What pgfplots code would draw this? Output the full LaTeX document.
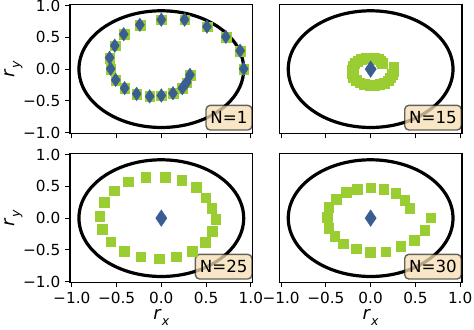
\documentclass[border=0pt]{standalone}
\usepackage{pgfplots}
\pgfplotsset{compat=1.18}
\usepackage{fontspec}
\setmainfont{DejaVu Sans}
\definecolor{sqgreen}{RGB}{154,205,50}
\definecolor{dmblue}{RGB}{58,94,145}
\definecolor{wheat}{RGB}{245,222,179}

\tikzset{
  ring/.style={line width=2.3pt, black},
  nbox/.style={anchor=south east, fill=wheat, fill opacity=0.75, draw=black, draw opacity=0.6, text opacity=1,
    rounded corners=3pt, line width=1pt, inner xsep=3.2pt, inner ysep=4.5pt, text height=8.8pt, text depth=0pt,
    font=\fontsize{12}{14}\selectfont, yshift=2pt},
}
\pgfplotsset{
  panel/.style={
    scale only axis, width=131.5pt, height=92.7pt,
    xmin=-1.02, xmax=1.02, ymin=-1.015, ymax=1.015,
    clip=false,
    axis line style={line width=0.8pt},
    tick align=outside, major tick length=3.5pt,
    every tick/.style={line width=0.8pt, black},
    tick pos=left,
    xtick={-1,-0.5,0,0.5,1}, ytick={-1,-0.5,0,0.5,1},
    xticklabels={}, yticklabels={},
    ticklabel style={font=\fontsize{11}{13}\selectfont},
    every axis x label/.style={at={(axis description cs:0.5,-0.27)}, anchor=center, font=\fontsize{13}{15}\selectfont},
    every axis y label/.style={at={(axis description cs:-0.31,0.5)}, rotate=90, anchor=center, font=\fontsize{13}{15}\selectfont},
  },
  numx/.style={xticklabels={−1.0,−0.5,0.0,0.5,1.0}, xlabel={\textit{r}\raisebox{-0.3em}{\fontsize{9}{10}\selectfont\textit{x}}}},
  numy/.style={yticklabels={−1.0,−0.5,0.0,0.5,1.0}, ylabel={\textit{r}\raisebox{-0.3em}{\fontsize{9}{10}\selectfont\textit{y}}}},
  noy/.style={ytick=\empty},
  sq/.style={only marks, mark=square*, mark size=3.5pt, mark options={fill=sqgreen, draw=sqgreen, line width=0.1pt}},
  dm/.style={only marks, mark=diamond*, mark size=#1, mark options={xscale=0.9, fill=dmblue, draw=dmblue, line width=0.1pt}},
}

\begin{document}
\begin{tikzpicture}
\useasboundingbox (0,0) rectangle (341.28pt,236.88pt);

% N=1
\begin{axis}[panel, numy, at={(50.4pt,140.76pt)}, anchor=south west]
\addplot[sq] coordinates {
(0.32,-0.09) (0.283,-0.21) (0.235,-0.30) (0.13,-0.38) (0.00,-0.415)
(-0.13,-0.43) (-0.276,-0.39) (-0.41,-0.30) (-0.51,-0.17) (-0.566,0.005)
(-0.578,0.18) (-0.52,0.37) (-0.42,0.55) (-0.24,0.70) (0.00,0.78)
(0.26,0.78) (0.51,0.67) (0.72,0.51) (0.88,0.29) (0.92,0.005)};
\addplot[dm=5pt] coordinates {
(0.32,-0.09) (0.283,-0.21) (0.235,-0.30) (0.13,-0.38) (0.00,-0.415)
(-0.13,-0.43) (-0.276,-0.39) (-0.41,-0.30) (-0.51,-0.17) (-0.566,0.005)
(-0.578,0.18) (-0.52,0.37) (-0.42,0.55) (-0.24,0.70) (0.00,0.78)
(0.26,0.78) (0.51,0.67) (0.72,0.51) (0.88,0.29) (0.92,0.005)};
\draw[ring] (axis cs:0,0) ellipse [x radius=0.92, y radius=0.92];
\node[nbox] at (rel axis cs:1,0) {N=1};
\end{axis}

% N=15
\begin{axis}[panel, noy, at={(201.1pt,140.76pt)}, anchor=south west]
\addplot[sq] coordinates {
(0.257,0.028) (0.255,-0.028) (0.242,-0.083) (0.22,-0.133) (0.193,-0.179)
(0.15,-0.216) (0.10,-0.239) (0.045,-0.25) (-0.01,-0.248) (-0.07,-0.235)
(-0.123,-0.212) (-0.165,-0.175) (-0.197,-0.129) (-0.21,-0.069) (-0.208,-0.009)
(-0.198,0.046) (-0.179,0.092) (-0.145,0.129) (-0.104,0.154) (-0.058,0.17)
(-0.01,0.175) (0.04,0.17) (0.082,0.156) (0.112,0.129) (0.13,0.092)};
\addplot[dm=6.1pt] coordinates {(0,0)};
\draw[ring] (axis cs:0,0) ellipse [x radius=0.92, y radius=0.92];
\node[nbox] at (rel axis cs:1,0) {N=15};
\end{axis}

% N=25
\begin{axis}[panel, numx, numy, at={(50.4pt,33.48pt)}, anchor=south west]
\addplot[sq] coordinates {
(-0.175,0.645) (0.04,0.65) (0.227,0.603) (0.391,0.488) (0.495,0.324)
(0.562,0.157) (0.607,-0.011) (0.57,-0.20) (0.487,-0.378) (0.346,-0.515)
(0.168,-0.605) (-0.025,-0.636) (-0.231,-0.605) (-0.418,-0.515) (-0.566,-0.368)
(-0.659,-0.173) (-0.689,0.036) (-0.641,0.252) (-0.53,0.435) (-0.373,0.576)};
\addplot[dm=6.1pt] coordinates {(0,0)};
\draw[ring] (axis cs:0,0) ellipse [x radius=0.92, y radius=0.92];
\node[nbox] at (rel axis cs:1,0) {N=25};
\end{axis}

% N=30
\begin{axis}[panel, numx, noy, at={(201.1pt,33.48pt)}, anchor=south west]
\addplot[sq] coordinates {
(0.670,0.01) (0.603,-0.184) (0.484,-0.342) (0.335,-0.446) (0.168,-0.525)
(-0.003,-0.535) (-0.160,-0.482) (-0.310,-0.403) (-0.402,-0.288) (-0.469,-0.157)
(-0.488,0.016) (-0.469,0.173) (-0.383,0.304) (-0.271,0.409) (-0.148,0.461)
(0.000,0.482) (0.145,0.461) (0.279,0.394) (0.380,0.288) (0.436,0.157)};
\addplot[dm=6.1pt] coordinates {(0,0)};
\draw[ring] (axis cs:0,0) ellipse [x radius=0.92, y radius=0.92];
\node[nbox] at (rel axis cs:1,0) {N=30};
\end{axis}
\end{tikzpicture}
\end{document}
